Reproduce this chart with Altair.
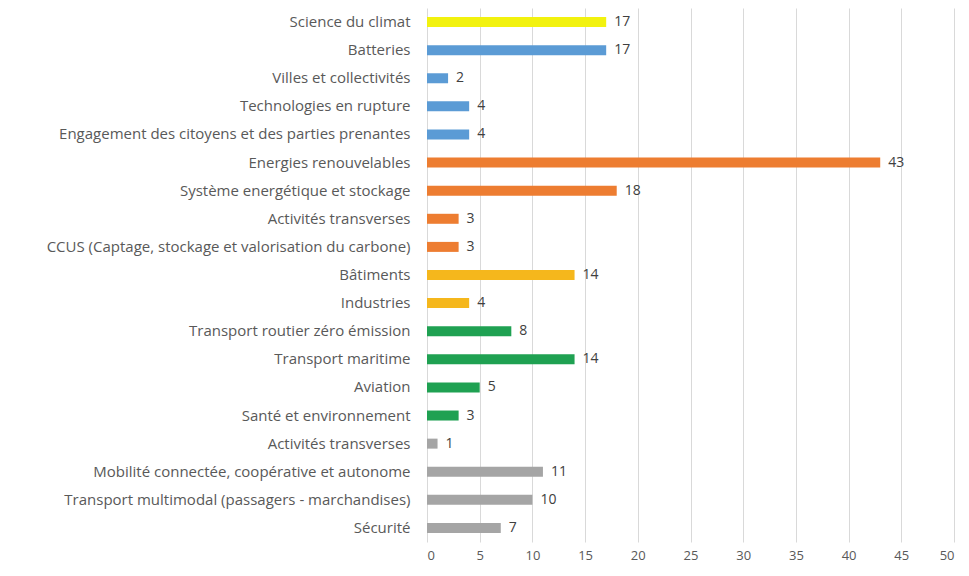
import altair as alt
import pandas as pd
import json

categories = [
    "Science du climat",
    "Batteries",
    "Villes et collectivités",
    "Technologies en rupture",
    "Engagement des citoyens et des parties prenantes",
    "Energies renouvelables",
    "Système energétique et stockage",
    "Activités transverses",
    "CCUS (Captage, stockage et valorisation du carbone)",
    "Bâtiments",
    "Industries",
    "Transport routier zéro émission",
    "Transport maritime",
    "Aviation",
    "Santé et environnement",
    "Activités transverses",
    "Mobilité connectée, coopérative et autonome",
    "Transport multimodal (passagers - marchandises)",
    "Sécurité",
]
values = [17, 17, 2, 4, 4, 43, 18, 3, 3, 14, 4, 8, 14, 5, 3, 1, 11, 10, 7]
colors = [
    "#F2F20F",
    "#5B9BD5", "#5B9BD5", "#5B9BD5", "#5B9BD5",
    "#ED7D31", "#ED7D31", "#ED7D31", "#ED7D31",
    "#F5B71C", "#F5B71C",
    "#1FA152", "#1FA152", "#1FA152", "#1FA152",
    "#A5A5A5", "#A5A5A5", "#A5A5A5", "#A5A5A5",
]

df = pd.DataFrame({
    "key": list(range(len(categories))),
    "label": categories,
    "value": values,
    "color": colors,
})

label_expr = json.dumps(categories) + "[datum.value]"

y = alt.Y("key:O", sort=None, title=None,
          axis=alt.Axis(labelExpr=label_expr, labelFont="Open Sans", labelFontSize=15,
                        labelColor="#595959", labelPadding=17, ticks=False, domain=False,
                        labelLimit=500))
x = alt.X("value:Q", title=None, scale=alt.Scale(domain=[0, 50], nice=False),
          axis=alt.Axis(values=list(range(0, 55, 5)), grid=True, gridColor="#D9D9D9",
                        ticks=False, domain=False, labelFont="Open Sans", labelFontSize=13,
                        labelColor="#595959", labelPadding=7))

bars = alt.Chart(df).mark_bar(size=10).encode(
    x=x, y=y, color=alt.Color("color:N", scale=None)
)
text = alt.Chart(df).mark_text(align="left", dx=8, font="Open Sans", fontSize=14,
                               color="#404040").encode(
    x="value:Q", y=alt.Y("key:O", sort=None), text="value:Q"
)

chart = (bars + text).properties(
    width=527, height=534,
    autosize=alt.AutoSizeParams(type="none"),
    padding={"left": 419, "top": 0, "right": 7, "bottom": 26},
).configure_view(stroke=None)
chart.save("out.html", embed_options={"renderer": "svg", "actions": False})
